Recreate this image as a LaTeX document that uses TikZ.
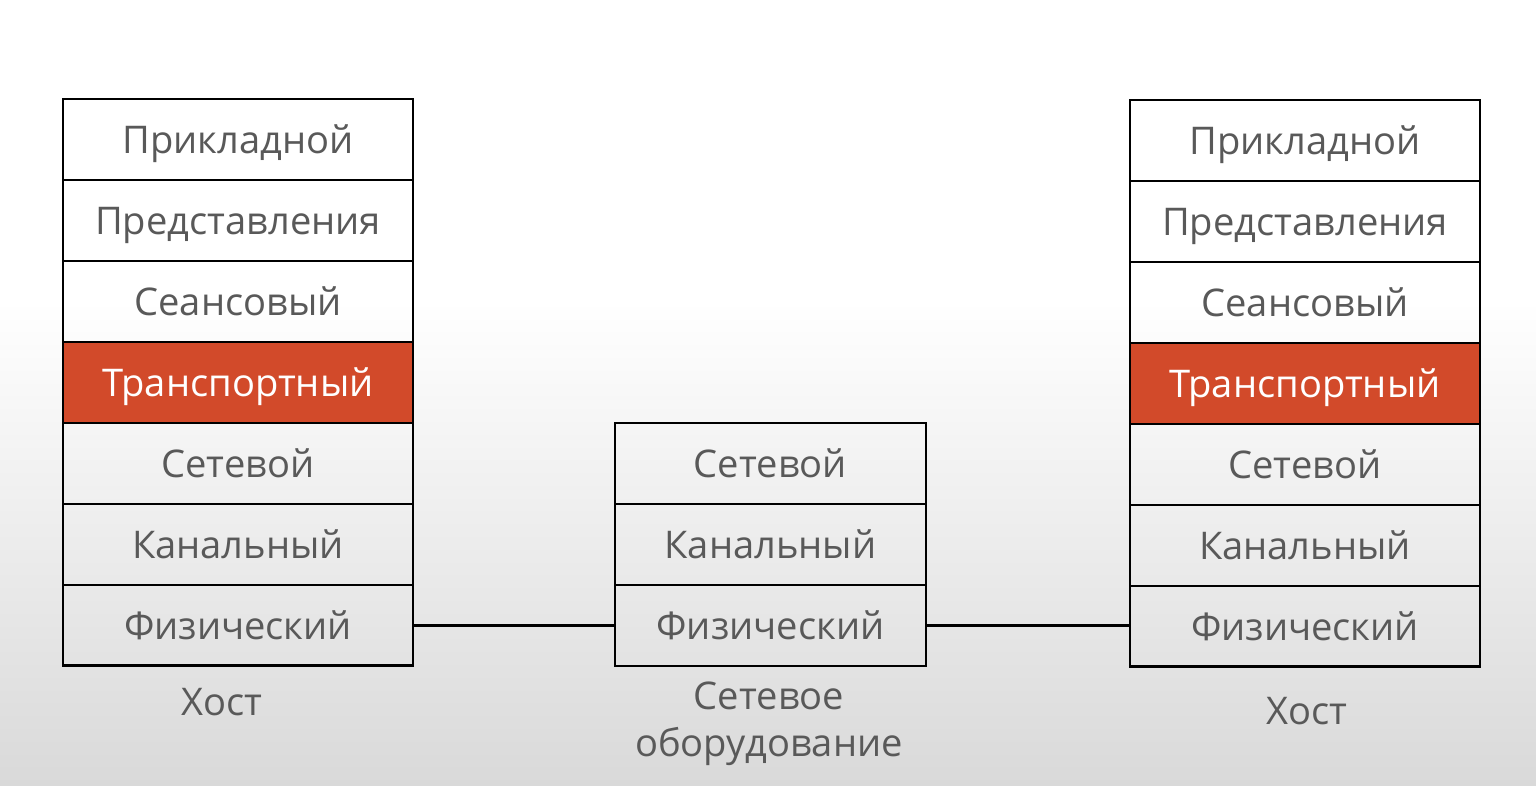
\documentclass[tikz,border=0pt]{standalone}
\usepackage{fontspec}
\setmainfont{Open Sans}
\usetikzlibrary{positioning}
\definecolor{layertext}{HTML}{595959}
\definecolor{transport}{HTML}{D24A2A}
\definecolor{floor}{HTML}{D9D9D9}
\tikzstyle{layer}=[draw,line width=1.6pt,rectangle,minimum width=7cm,minimum height=1.62cm,inner sep=0pt,outer sep=0pt,text height=15.7pt,text depth=0pt,text=layertext,font=\fontsize{21.7}{26}\selectfont]
\tikzstyle{hot}=[layer,fill=transport,text=white]
\tikzstyle{caption}=[text=layertext,align=center,font=\fontsize{21.7}{27}\selectfont]

\begin{document}
\begin{tikzpicture}[x=0.02cm,y=-0.02cm]
  % background
  \fill[white] (0,0) rectangle (1536,786);
  \shade[top color=white,bottom color=floor] (0,300) rectangle (1536,786);
  % left host
  \node[layer] (lapp) at (238,139.5) {Прикладной};
  \node[layer, below=0pt of lapp] (lpres) {Представления};
  \node[layer, below=0pt of lpres] (lsess) {Сеансовый};
  \node[hot, below=0pt of lsess] (ltrans) {Транспортный};
  \node[layer, below=0pt of ltrans] (lnet) {Сетевой};
  \node[layer, below=0pt of lnet] (llink) {Канальный};
  \node[layer, below=0pt of llink] (lphys) {Физический};
  \node[caption] (lhost) at (222,702) {Хост};
  % network equipment
  \node[layer, minimum width=6.22cm] (mnet) at (770.5,463.5) {Сетевой};
  \node[layer, minimum width=6.22cm, below=0pt of mnet] (mlink) {Канальный};
  \node[layer, minimum width=6.22cm, below=0pt of mlink] (mphys) {Физический};
  \node[caption] (mdev) at (769,724) {Сетевое\\оборудование};
  % right host
  \node[layer] (rapp) at (1305,140.5) {Прикладной};
  \node[layer, below=0pt of rapp] (rpres) {Представления};
  \node[layer, below=0pt of rpres] (rsess) {Сеансовый};
  \node[hot, below=0pt of rsess] (rtrans) {Транспортный};
  \node[layer, below=0pt of rtrans] (rnet) {Сетевой};
  \node[layer, below=0pt of rnet] (rlink) {Канальный};
  \node[layer, below=0pt of rlink] (rphys) {Физический};
  \node[caption] (rhost) at (1307,711) {Хост};
  % links
  \draw[line width=1.6pt] (lphys) -- (mphys);
  \draw[line width=1.6pt] (mphys.east) -- (mphys.east -| rphys.west);
\end{tikzpicture}
\end{document}
